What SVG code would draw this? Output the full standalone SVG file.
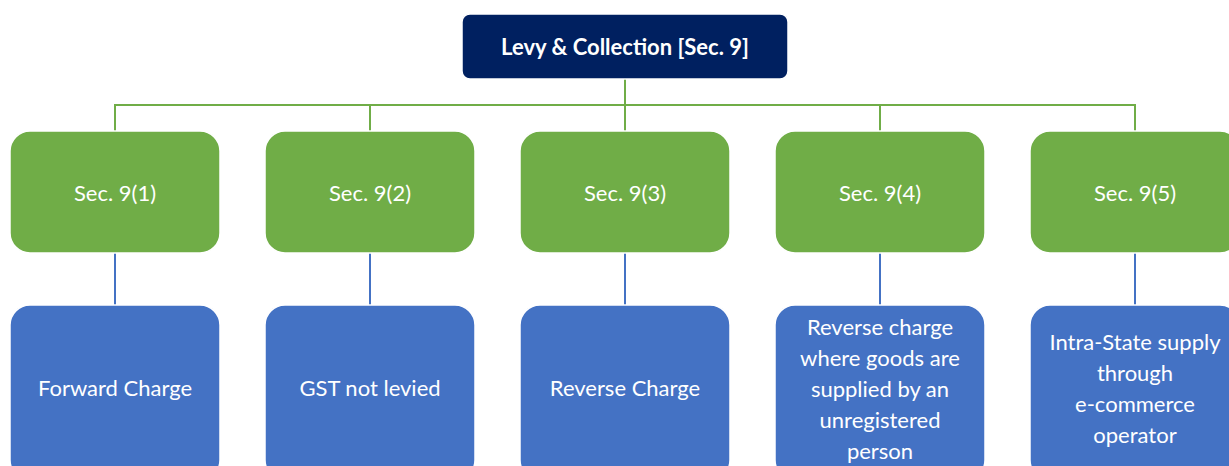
<svg xmlns="http://www.w3.org/2000/svg" width="1229" height="466" viewBox="0 0 1229 466">
<style>
.t{font-family:Lato,"Open Sans","Liberation Sans",sans-serif;fill:#fff;text-anchor:middle;dominant-baseline:central}
.g{fill:#70ad47;stroke:#fff;stroke-width:1.5}
.b{fill:#4472c4;stroke:#fff;stroke-width:1.5}
.cg{stroke:#70ad47;stroke-width:2;fill:none}
.cb{stroke:#4472c4;stroke-width:2;fill:none}
</style>
<rect width="1229" height="466" fill="#fff"/>
<g id="connectors">
<path class="cg" d="M625 79V105M115 131V105H1135V131M370 105V131M625 105V131M880 105V131"/>
<path class="cb" d="M115 253V305M370 253V305M625 253V305M880 253V305M1135 253V305"/>
</g>
<g id="root">
<rect x="462" y="14" width="326" height="65" rx="8" fill="#002060" stroke="#fff" stroke-width="1.5"/>
<text class="t" x="625" y="46" font-size="22" font-weight="bold">Levy &amp; Collection [Sec. 9]</text>
</g>
<g id="s1"><rect class="g" x="10" y="131" width="210" height="122" rx="20"/><text class="t" x="115" y="192" font-size="22">Sec. 9(1)</text></g>
<g id="s2"><rect class="g" x="265" y="131" width="210" height="122" rx="20"/><text class="t" x="370" y="192" font-size="22">Sec. 9(2)</text></g>
<g id="s3"><rect class="g" x="520" y="131" width="210" height="122" rx="20"/><text class="t" x="625" y="192" font-size="22">Sec. 9(3)</text></g>
<g id="s4"><rect class="g" x="775" y="131" width="210" height="122" rx="20"/><text class="t" x="880" y="192" font-size="22">Sec. 9(4)</text></g>
<g id="s5"><rect class="g" x="1030" y="131" width="210" height="122" rx="20"/><text class="t" x="1135" y="192" font-size="22">Sec. 9(5)</text></g>
<g id="b1"><rect class="b" x="10" y="305" width="210" height="175" rx="20"/><text class="t" x="115" y="387" font-size="22">Forward Charge</text></g>
<g id="b2"><rect class="b" x="265" y="305" width="210" height="175" rx="20"/><text class="t" x="370" y="387" font-size="22">GST not levied</text></g>
<g id="b3"><rect class="b" x="520" y="305" width="210" height="175" rx="20"/><text class="t" x="625" y="387" font-size="22">Reverse Charge</text></g>
<g id="b4"><rect class="b" x="775" y="305" width="210" height="175" rx="20"/>
<text class="t" font-size="22"><tspan x="880" y="326">Reverse charge</tspan><tspan x="880" y="357">where goods are</tspan><tspan x="880" y="388">supplied by an</tspan><tspan x="880" y="419">unregistered</tspan><tspan x="880" y="450">person</tspan></text></g>
<g id="b5"><rect class="b" x="1030" y="305" width="210" height="175" rx="20"/>
<text class="t" font-size="22"><tspan x="1135" y="341">Intra-State supply</tspan><tspan x="1135" y="372">through</tspan><tspan x="1135" y="403">e-commerce</tspan><tspan x="1135" y="434">operator</tspan></text></g>
</svg>
